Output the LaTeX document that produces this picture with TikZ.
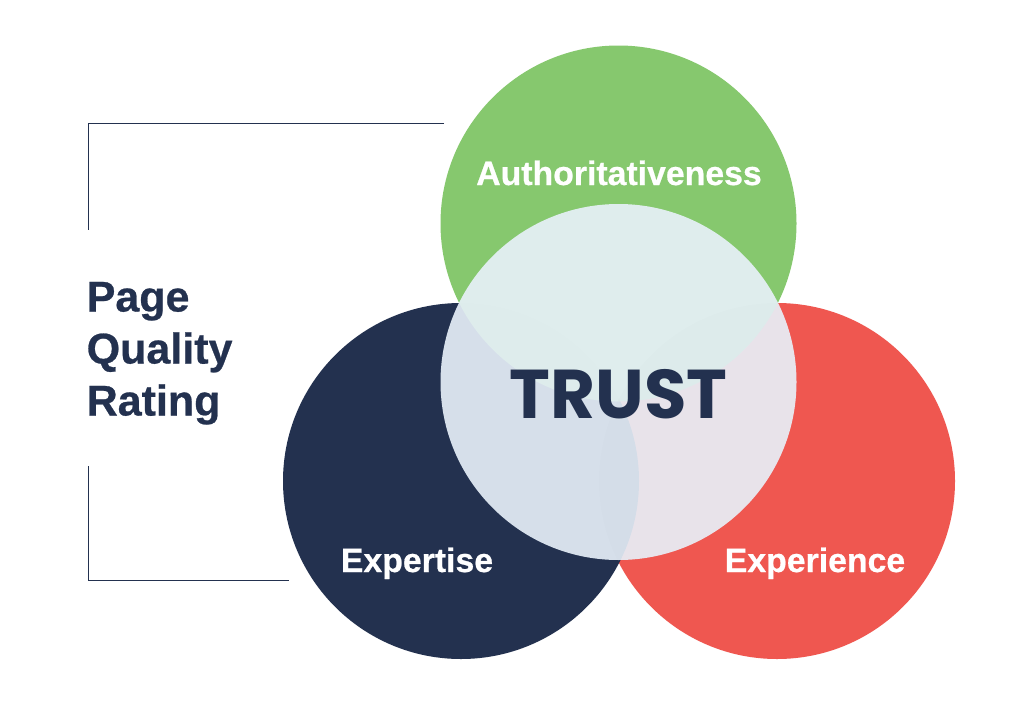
\documentclass[tikz,border=0pt]{standalone}
\usepackage{fontspec}
\setmainfont[BoldFeatures={FakeBold=0.6}]{Liberation Sans}
\newfontfamily\trustfont{Poppins}
\definecolor{navy}{HTML}{23314F}
\definecolor{leaf}{HTML}{86C86E}
\definecolor{coral}{HTML}{EF5750}
\definecolor{veil}{RGB}{232,241,250}
\tikzset{
  bubble/.style={circle,minimum size=356pt,inner sep=0pt,outer sep=0pt,draw=none},
  bubbletext/.style={text=white,font=\fontsize{33.8}{34}\selectfont\bfseries,inner sep=0pt},
  sidetext/.style={text=navy,font=\fontsize{43}{43}\selectfont\bfseries,inner sep=0pt,anchor=base west},
  frameline/.style={draw=navy,line width=1.1pt}
}
\begin{document}
\begin{tikzpicture}[x=1pt,y=-1pt]
\useasboundingbox (0,0) rectangle (1024,704);
\fill[white] (0,0) rectangle (1024,704);
\node[bubble,fill=coral] (red) at (777,481) {};
\node[bubble,fill=navy] (blue) at (461,481) {};
\node[bubble,fill=leaf] (green) at (618.5,223.5) {};
\node[bubble,fill=veil,fill opacity=.91] (trustc) at (618.5,382) {};
% faint lenses where the three circles overlap, seen through the veil
\begin{scope}
  \clip (461,481) circle (178pt);
  \clip (777,481) circle (178pt);
  \fill[navy,opacity=.007] (430,280) rectangle (810,570);
\end{scope}
\begin{scope}
  \clip (618.5,223.5) circle (178pt);
  \clip (777,481) circle (178pt);
  \fill[navy,opacity=.007] (430,280) rectangle (810,570);
\end{scope}
\begin{scope}
  \clip (618.5,223.5) circle (178pt);
  \clip (461,481) circle (178pt);
  \fill[navy,opacity=.004] (430,280) rectangle (810,570);
\end{scope}
\node[text=navy,font=\trustfont\fontsize{69}{69}\selectfont\bfseries,inner sep=0pt,anchor=base] (trust) at (618.5,418) {TRUST};
\node[bubbletext,anchor=base] (auth) at (619,185) {Authoritativeness};
\node[bubbletext,anchor=base] (exper) at (417,572) {Expertise};
\node[bubbletext,anchor=base] (exnc) at (815,572) {Experience};
\node[sidetext] (page) at (86.5,311.5) {Page};
\node[sidetext] (qual) at (86.5,363.5) {Quality};
\node[sidetext] (rate) at (86.5,415.5) {Rating};
\coordinate (a1) at (444,123.5);
\coordinate (a2) at (88.5,123.5);
\coordinate (a3) at (88.5,230);
\coordinate (b1) at (88.5,466);
\coordinate (b2) at (88.5,580.5);
\coordinate (b3) at (289,580.5);
\draw[frameline] (a1) -- (a2) -- (a3);
\draw[frameline] (b1) -- (b2) -- (b3);
\end{tikzpicture}
\end{document}
